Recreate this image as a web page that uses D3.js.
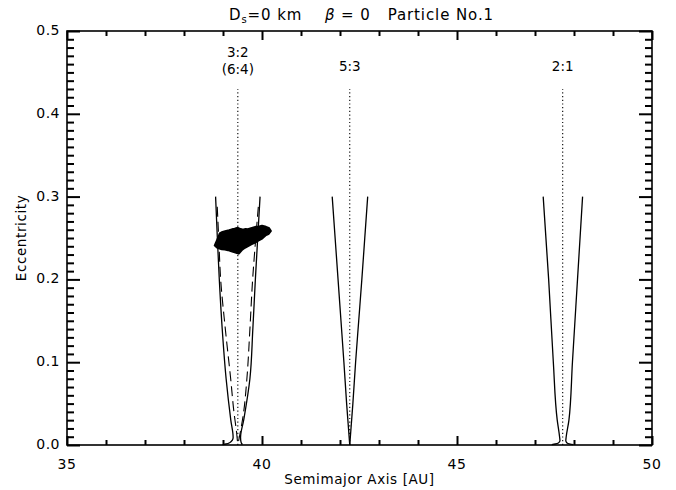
<!DOCTYPE html>
<html>
<head>
<meta charset="utf-8">
<script src="https://d3js.org/d3.v7.min.js"></script>
<style>
  html, body { margin: 0; padding: 0; background: #fff; }
  svg { display: block; }
  text { font-family: "DejaVu Sans", sans-serif; fill: #000; }
</style>
</head>
<body>
<script>
// Axis ranges and tick values
const xDomain = [35, 50];
const yDomain = [0, 0.5];
const xMajorTicks = [35, 40, 45, 50];
const xMinorTicks = [36, 37, 38, 39, 41, 42, 43, 44, 46, 47, 48, 49];
const yMajorTicks = [0, 0.1, 0.2, 0.3, 0.4, 0.5];
const yTickLabels = ["0.0", "0.1", "0.2", "0.3", "0.4", "0.5"];
const yMinorTicks = [0.01, 0.02, 0.03, 0.04, 0.05, 0.06, 0.07, 0.08, 0.09,
                     0.11, 0.12, 0.13, 0.14, 0.15, 0.16, 0.17, 0.18, 0.19,
                     0.21, 0.22, 0.23, 0.24, 0.25, 0.26, 0.27, 0.28, 0.29,
                     0.31, 0.32, 0.33, 0.34, 0.35, 0.36, 0.37, 0.38, 0.39,
                     0.41, 0.42, 0.43, 0.44, 0.45, 0.46, 0.47, 0.48, 0.49];

// Mean-motion resonances with Neptune: nominal semimajor axis [AU]
const resonanceNames = ["3:2", "5:3", "2:1"];
const resonanceA = [39.38, 42.25, 47.71];
const resonanceTopE = 0.43;

// Resonance boundaries, as [eccentricity, semimajor axis] pairs
const res32Left = [[0.0005, 38.99], [0.0012, 39.08], [0.003, 39.18], [0.006, 39.24], [0.009, 39.26],
                   [0.03, 39.20], [0.08, 39.08], [0.14, 38.98], [0.20, 38.905], [0.25, 38.855], [0.30, 38.81]];
const res32Right = [[0.0005, 39.50], [0.0015, 39.48], [0.004, 39.46], [0.009, 39.45],
                    [0.03, 39.53], [0.08, 39.69], [0.14, 39.765], [0.20, 39.83], [0.25, 39.89], [0.30, 39.95]];
const res53Left = [[0.0, 42.25], [0.05, 42.17], [0.10, 42.10], [0.15, 42.025], [0.20, 41.95], [0.25, 41.875], [0.30, 41.80]];
const res53Right = [[0.0, 42.25], [0.05, 42.33], [0.10, 42.40], [0.15, 42.48], [0.20, 42.56], [0.25, 42.635], [0.30, 42.71]];
const res21Left = [[0.0004, 47.43], [0.0012, 47.52], [0.0025, 47.60], [0.005, 47.64], [0.01, 47.63],
                   [0.03, 47.57], [0.10, 47.47], [0.20, 47.35], [0.30, 47.21]];
const res21Right = [[0.0004, 47.98], [0.0012, 47.90], [0.0025, 47.82], [0.005, 47.79], [0.01, 47.80],
                    [0.03, 47.87], [0.10, 47.96], [0.20, 48.09], [0.30, 48.22]];

// Inner (dashed) 3:2 boundaries
const res32InnerLeft = [[0.005, 39.37], [0.0145, 39.35], [0.04, 39.28], [0.0785, 39.20], [0.14, 39.06],
                        [0.20, 38.94], [0.25, 38.89], [0.29, 38.85]];
const res32InnerRight = [[0.005, 39.40], [0.0145, 39.44], [0.04, 39.53], [0.0785, 39.61], [0.14, 39.69],
                         [0.20, 39.76], [0.25, 39.84], [0.29, 39.91]];

// Region swept by Particle No.1 in (a, e): outline as [semimajor axis, eccentricity]
const particleA = [38.795, 38.87, 38.92, 38.99, 39.08, 39.16, 39.23, 39.30, 39.38, 39.45, 39.51, 39.58, 39.64,
                   39.72, 39.85, 39.93, 40.00, 40.10, 40.17, 40.22, 40.16, 40.10, 40.00, 39.90, 39.82, 39.72,
                   39.64, 39.56, 39.49, 39.40, 39.34, 39.28, 39.20, 39.13, 39.05, 38.97, 38.91, 38.85];
const particleE = [0.2410, 0.2490, 0.2552, 0.2570, 0.2583, 0.2590, 0.2602, 0.2608, 0.2620, 0.2605, 0.2596, 0.2605, 0.2602,
                   0.2615, 0.2632, 0.2637, 0.2644, 0.2632, 0.2620, 0.2585, 0.2550, 0.2537, 0.2495, 0.2470, 0.2447, 0.2425,
                   0.2404, 0.2385, 0.2362, 0.2314, 0.2325, 0.2332, 0.2345, 0.2356, 0.2363, 0.2368, 0.2375, 0.2386];

const W = 676, H = 490;
const plot = { left: 67, right: 652, top: 31, bottom: 445 };

const svg = d3.select("body").append("svg")
  .attr("width", W).attr("height", H);

svg.append("rect").attr("width", W).attr("height", H).attr("fill", "#fff");

const x = d3.scaleLinear().domain(xDomain).range([plot.left, plot.right]);
const y = d3.scaleLinear().domain(yDomain).range([plot.bottom, plot.top]);

// Inward ticks on all four sides, drawn with d3 axes
function drawTicks(axisFn, scale, values, size, tx, ty) {
  const g = svg.append("g")
    .attr("transform", `translate(${tx},${ty})`)
    .call(axisFn(scale).tickValues(values).tickSize(size).tickFormat(""));
  g.selectAll("line").attr("stroke", "#000").attr("stroke-width", 2);
  g.selectAll(".domain").attr("stroke", "none");
}
drawTicks(d3.axisBottom, x, xMajorTicks, -9, 0, plot.bottom);
drawTicks(d3.axisBottom, x, xMinorTicks, -5, 0, plot.bottom);
drawTicks(d3.axisTop, x, xMajorTicks, -9, 0, plot.top);
drawTicks(d3.axisTop, x, xMinorTicks, -5, 0, plot.top);
drawTicks(d3.axisLeft, y, yMajorTicks, -13, plot.left, 0);
drawTicks(d3.axisLeft, y, yMinorTicks, -7, plot.left, 0);
drawTicks(d3.axisRight, y, yMajorTicks, -13, plot.right, 0);
drawTicks(d3.axisRight, y, yMinorTicks, -7, plot.right, 0);

// Particle region
const particle = particleA.map((a, i) => [a, particleE[i]]);
svg.append("path")
  .attr("d", d3.line().x(d => x(d[0])).y(d => y(d[1])).curve(d3.curveLinearClosed)(particle))
  .attr("fill", "#000").attr("stroke", "#000").attr("stroke-width", 2.5)
  .attr("stroke-linejoin", "round");

// Boundary curves
const boundary = d3.line().x(d => x(d[1])).y(d => y(d[0])).curve(d3.curveMonotoneY);
[res32Left, res32Right, res53Left, res53Right, res21Left, res21Right].forEach(pts => {
  svg.append("path").attr("d", boundary(pts))
    .attr("fill", "none").attr("stroke", "#000").attr("stroke-width", 1.3);
});
[res32InnerLeft, res32InnerRight].forEach(pts => {
  svg.append("path").attr("d", boundary(pts))
    .attr("fill", "none").attr("stroke", "#000").attr("stroke-width", 1.1)
    .attr("stroke-dasharray", "10,5");
});

// Nominal resonance locations (dotted)
resonanceA.forEach(a => {
  svg.append("line")
    .attr("x1", x(a)).attr("x2", x(a))
    .attr("y1", y(0)).attr("y2", y(resonanceTopE))
    .attr("stroke", "#000").attr("stroke-width", 1.1)
    .attr("stroke-dasharray", "1.2,2.5");
});

// Resonance labels
const labelE = [0.473, 0.456, 0.456];
resonanceNames.forEach((name, i) => {
  svg.append("text")
    .attr("x", x(resonanceA[i])).attr("y", y(labelE[i]))
    .attr("text-anchor", "middle").attr("dominant-baseline", "middle")
    .attr("font-size", 13.5).text(name);
});
svg.append("text")
  .attr("x", x(resonanceA[0])).attr("y", y(0.453))
  .attr("text-anchor", "middle").attr("dominant-baseline", "middle")
  .attr("font-size", 13.5).text("(6:4)");

// Frame
svg.append("rect")
  .attr("x", plot.left).attr("y", plot.top)
  .attr("width", plot.right - plot.left).attr("height", plot.bottom - plot.top)
  .attr("fill", "none").attr("stroke", "#000").attr("stroke-width", 1.6);

// Tick labels
xMajorTicks.forEach(v => {
  svg.append("text").attr("x", x(v)).attr("y", plot.bottom + 24)
    .attr("text-anchor", "middle").attr("font-size", 14).attr("letter-spacing", 0.5).text(v);
});
yMajorTicks.forEach((v, i) => {
  svg.append("text").attr("x", plot.left - 7).attr("y", y(v))
    .attr("text-anchor", "end").attr("dominant-baseline", "middle")
    .attr("font-size", 14).attr("letter-spacing", 0.5).text(yTickLabels[i]);
});

// Axis titles
svg.append("text").attr("x", (plot.left + plot.right) / 2).attr("y", 484)
  .attr("text-anchor", "middle").attr("font-size", 13.5).attr("letter-spacing", 0.6)
  .text("Semimajor Axis [AU]");
svg.append("text")
  .attr("transform", `translate(26,${(plot.top + plot.bottom) / 2}) rotate(-90)`)
  .attr("text-anchor", "middle").attr("font-size", 13.5).attr("letter-spacing", 0.6)
  .text("Eccentricity");

// Title
const title = svg.append("text").attr("x", (plot.left + plot.right) / 2 + 2).attr("y", 20)
  .attr("text-anchor", "middle").attr("font-size", 15).attr("letter-spacing", 0.9)
  .attr("xml:space", "preserve").style("white-space", "pre");
title.append("tspan").text("D");
title.append("tspan").attr("font-size", 10).attr("dy", 3).text("s");
title.append("tspan").attr("dy", -3).text("=0 km    ");
title.append("tspan").attr("font-style", "italic").text("β");
title.append("tspan").text(" = 0   Particle No.1");
</script>
</body>
</html>
